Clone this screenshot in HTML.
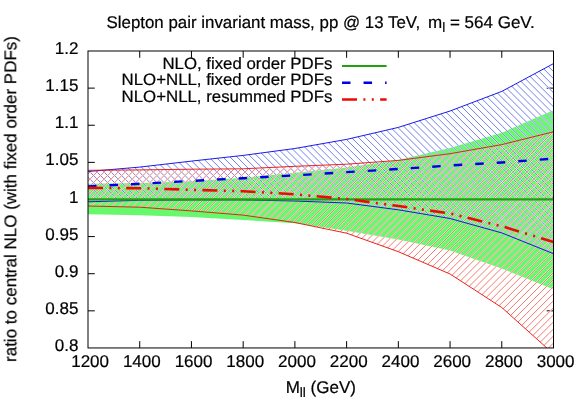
<!DOCTYPE html>
<html><head><meta charset="utf-8"><title>plot</title>
<style>html,body{margin:0;padding:0;background:#fff;}body{width:581px;height:418px;position:relative;overflow:hidden;font-family:"Liberation Sans",sans-serif;}</style>
</head><body>
<svg width="581" height="418" viewBox="0 0 581 418" style="position:absolute;left:0;top:0">
<defs>
<clipPath id="frame"><rect x="88.0" y="51.0" width="465.5" height="296.95"/></clipPath>
<clipPath id="cb"><polygon points="88.00,171.50 139.72,167.10 191.44,161.10 243.17,155.40 294.89,148.50 346.61,139.40 398.33,127.40 450.06,111.00 501.78,91.40 553.50,63.60 553.50,253.70 501.78,232.90 450.06,218.50 398.33,209.80 346.61,203.00 294.89,201.00 243.17,199.90 191.44,199.90 139.72,200.30 88.00,201.80"/></clipPath>
<clipPath id="cr"><polygon points="88.00,170.30 139.72,169.90 191.44,169.20 243.17,168.80 294.89,166.30 346.61,164.20 398.33,160.40 450.06,153.70 501.78,144.60 553.50,131.80 553.50,354.00 501.78,307.50 450.06,274.00 398.33,251.70 346.61,233.20 294.89,222.50 243.17,215.10 191.44,210.90 139.72,207.20 88.00,206.00"/></clipPath>
</defs>
<rect width="581" height="418" fill="#fff"/>
<path d="M139.72,347.95v-6.8M139.72,51.0v6.8M191.44,347.95v-6.8M191.44,51.0v6.8M243.17,347.95v-6.8M243.17,51.0v6.8M294.89,347.95v-6.8M294.89,51.0v6.8M346.61,347.95v-6.8M346.61,51.0v6.8M398.33,347.95v-6.8M398.33,51.0v6.8M450.06,347.95v-6.8M450.06,51.0v6.8M501.78,347.95v-6.8M501.78,51.0v6.8M88.0,310.83h6.8M553.5,310.83h-6.8M88.0,273.71h6.8M553.5,273.71h-6.8M88.0,236.59h6.8M553.5,236.59h-6.8M88.0,199.47h6.8M553.5,199.47h-6.8M88.0,162.36h6.8M553.5,162.36h-6.8M88.0,125.24h6.8M553.5,125.24h-6.8M88.0,88.12h6.8M553.5,88.12h-6.8" stroke="#000000" stroke-width="1" fill="none"/>
<g clip-path="url(#frame)">
<polygon points="88.00,183.80 139.72,183.10 191.44,181.30 243.17,177.70 294.89,172.70 346.61,167.60 398.33,160.00 450.06,148.00 501.78,132.80 553.50,110.30 553.50,289.30 501.78,268.40 450.06,250.60 398.33,239.50 346.61,230.80 294.89,223.30 243.17,220.00 191.44,217.00 139.72,215.20 88.00,214.20" fill="#68f86e"/>
<g clip-path="url(#cb)"><path d="M83.00,-427.10L558.50,48.40M83.00,-420.05L558.50,55.45M83.00,-413.00L558.50,62.50M83.00,-405.95L558.50,69.55M83.00,-398.90L558.50,76.60M83.00,-391.85L558.50,83.65M83.00,-384.80L558.50,90.70M83.00,-377.75L558.50,97.75M83.00,-370.70L558.50,104.80M83.00,-363.65L558.50,111.85M83.00,-356.60L558.50,118.90M83.00,-349.55L558.50,125.95M83.00,-342.50L558.50,133.00M83.00,-335.45L558.50,140.05M83.00,-328.40L558.50,147.10M83.00,-321.35L558.50,154.15M83.00,-314.30L558.50,161.20M83.00,-307.25L558.50,168.25M83.00,-300.20L558.50,175.30M83.00,-293.15L558.50,182.35M83.00,-286.10L558.50,189.40M83.00,-279.05L558.50,196.45M83.00,-272.00L558.50,203.50M83.00,-264.95L558.50,210.55M83.00,-257.90L558.50,217.60M83.00,-250.85L558.50,224.65M83.00,-243.80L558.50,231.70M83.00,-236.75L558.50,238.75M83.00,-229.70L558.50,245.80M83.00,-222.65L558.50,252.85M83.00,-215.60L558.50,259.90M83.00,-208.55L558.50,266.95M83.00,-201.50L558.50,274.00M83.00,-194.45L558.50,281.05M83.00,-187.40L558.50,288.10M83.00,-180.35L558.50,295.15M83.00,-173.30L558.50,302.20M83.00,-166.25L558.50,309.25M83.00,-159.20L558.50,316.30M83.00,-152.15L558.50,323.35M83.00,-145.10L558.50,330.40M83.00,-138.05L558.50,337.45M83.00,-131.00L558.50,344.50M83.00,-123.95L558.50,351.55M83.00,-116.90L558.50,358.60M83.00,-109.85L558.50,365.65M83.00,-102.80L558.50,372.70M83.00,-95.75L558.50,379.75M83.00,-88.70L558.50,386.80M83.00,-81.65L558.50,393.85M83.00,-74.60L558.50,400.90M83.00,-67.55L558.50,407.95M83.00,-60.50L558.50,415.00M83.00,-53.45L558.50,422.05M83.00,-46.40L558.50,429.10M83.00,-39.35L558.50,436.15M83.00,-32.30L558.50,443.20M83.00,-25.25L558.50,450.25M83.00,-18.20L558.50,457.30M83.00,-11.15L558.50,464.35M83.00,-4.10L558.50,471.40M83.00,2.95L558.50,478.45M83.00,10.00L558.50,485.50M83.00,17.05L558.50,492.55M83.00,24.10L558.50,499.60M83.00,31.15L558.50,506.65M83.00,38.20L558.50,513.70M83.00,45.25L558.50,520.75M83.00,52.30L558.50,527.80M83.00,59.35L558.50,534.85M83.00,66.40L558.50,541.90M83.00,73.45L558.50,548.95M83.00,80.50L558.50,556.00M83.00,87.55L558.50,563.05M83.00,94.60L558.50,570.10M83.00,101.65L558.50,577.15M83.00,108.70L558.50,584.20M83.00,115.75L558.50,591.25M83.00,122.80L558.50,598.30M83.00,129.85L558.50,605.35M83.00,136.90L558.50,612.40M83.00,143.95L558.50,619.45M83.00,151.00L558.50,626.50M83.00,158.05L558.50,633.55M83.00,165.10L558.50,640.60M83.00,172.15L558.50,647.65M83.00,179.20L558.50,654.70M83.00,186.25L558.50,661.75M83.00,193.30L558.50,668.80M83.00,200.35L558.50,675.85M83.00,207.40L558.50,682.90M83.00,214.45L558.50,689.95M83.00,221.50L558.50,697.00M83.00,228.55L558.50,704.05M83.00,235.60L558.50,711.10M83.00,242.65L558.50,718.15M83.00,249.70L558.50,725.20M83.00,256.75L558.50,732.25M83.00,263.80L558.50,739.30M83.00,270.85L558.50,746.35M83.00,277.90L558.50,753.40M83.00,284.95L558.50,760.45M83.00,292.00L558.50,767.50M83.00,299.05L558.50,774.55M83.00,306.10L558.50,781.60M83.00,313.15L558.50,788.65M83.00,320.20L558.50,795.70M83.00,327.25L558.50,802.75M83.00,334.30L558.50,809.80M83.00,341.35L558.50,816.85M83.00,348.40L558.50,823.90" stroke="#fff" stroke-width="1.25" stroke-opacity="1.0" fill="none"/><path d="M83.00,-427.10L558.50,48.40M83.00,-420.05L558.50,55.45M83.00,-413.00L558.50,62.50M83.00,-405.95L558.50,69.55M83.00,-398.90L558.50,76.60M83.00,-391.85L558.50,83.65M83.00,-384.80L558.50,90.70M83.00,-377.75L558.50,97.75M83.00,-370.70L558.50,104.80M83.00,-363.65L558.50,111.85M83.00,-356.60L558.50,118.90M83.00,-349.55L558.50,125.95M83.00,-342.50L558.50,133.00M83.00,-335.45L558.50,140.05M83.00,-328.40L558.50,147.10M83.00,-321.35L558.50,154.15M83.00,-314.30L558.50,161.20M83.00,-307.25L558.50,168.25M83.00,-300.20L558.50,175.30M83.00,-293.15L558.50,182.35M83.00,-286.10L558.50,189.40M83.00,-279.05L558.50,196.45M83.00,-272.00L558.50,203.50M83.00,-264.95L558.50,210.55M83.00,-257.90L558.50,217.60M83.00,-250.85L558.50,224.65M83.00,-243.80L558.50,231.70M83.00,-236.75L558.50,238.75M83.00,-229.70L558.50,245.80M83.00,-222.65L558.50,252.85M83.00,-215.60L558.50,259.90M83.00,-208.55L558.50,266.95M83.00,-201.50L558.50,274.00M83.00,-194.45L558.50,281.05M83.00,-187.40L558.50,288.10M83.00,-180.35L558.50,295.15M83.00,-173.30L558.50,302.20M83.00,-166.25L558.50,309.25M83.00,-159.20L558.50,316.30M83.00,-152.15L558.50,323.35M83.00,-145.10L558.50,330.40M83.00,-138.05L558.50,337.45M83.00,-131.00L558.50,344.50M83.00,-123.95L558.50,351.55M83.00,-116.90L558.50,358.60M83.00,-109.85L558.50,365.65M83.00,-102.80L558.50,372.70M83.00,-95.75L558.50,379.75M83.00,-88.70L558.50,386.80M83.00,-81.65L558.50,393.85M83.00,-74.60L558.50,400.90M83.00,-67.55L558.50,407.95M83.00,-60.50L558.50,415.00M83.00,-53.45L558.50,422.05M83.00,-46.40L558.50,429.10M83.00,-39.35L558.50,436.15M83.00,-32.30L558.50,443.20M83.00,-25.25L558.50,450.25M83.00,-18.20L558.50,457.30M83.00,-11.15L558.50,464.35M83.00,-4.10L558.50,471.40M83.00,2.95L558.50,478.45M83.00,10.00L558.50,485.50M83.00,17.05L558.50,492.55M83.00,24.10L558.50,499.60M83.00,31.15L558.50,506.65M83.00,38.20L558.50,513.70M83.00,45.25L558.50,520.75M83.00,52.30L558.50,527.80M83.00,59.35L558.50,534.85M83.00,66.40L558.50,541.90M83.00,73.45L558.50,548.95M83.00,80.50L558.50,556.00M83.00,87.55L558.50,563.05M83.00,94.60L558.50,570.10M83.00,101.65L558.50,577.15M83.00,108.70L558.50,584.20M83.00,115.75L558.50,591.25M83.00,122.80L558.50,598.30M83.00,129.85L558.50,605.35M83.00,136.90L558.50,612.40M83.00,143.95L558.50,619.45M83.00,151.00L558.50,626.50M83.00,158.05L558.50,633.55M83.00,165.10L558.50,640.60M83.00,172.15L558.50,647.65M83.00,179.20L558.50,654.70M83.00,186.25L558.50,661.75M83.00,193.30L558.50,668.80M83.00,200.35L558.50,675.85M83.00,207.40L558.50,682.90M83.00,214.45L558.50,689.95M83.00,221.50L558.50,697.00M83.00,228.55L558.50,704.05M83.00,235.60L558.50,711.10M83.00,242.65L558.50,718.15M83.00,249.70L558.50,725.20M83.00,256.75L558.50,732.25M83.00,263.80L558.50,739.30M83.00,270.85L558.50,746.35M83.00,277.90L558.50,753.40M83.00,284.95L558.50,760.45M83.00,292.00L558.50,767.50M83.00,299.05L558.50,774.55M83.00,306.10L558.50,781.60M83.00,313.15L558.50,788.65M83.00,320.20L558.50,795.70M83.00,327.25L558.50,802.75M83.00,334.30L558.50,809.80M83.00,341.35L558.50,816.85M83.00,348.40L558.50,823.90" stroke="#3a4ee0" stroke-width="0.72" stroke-opacity="1" fill="none"/></g>
<g clip-path="url(#cr)"><path d="M83.00,52.10L558.50,-423.40M83.00,59.15L558.50,-416.35M83.00,66.20L558.50,-409.30M83.00,73.25L558.50,-402.25M83.00,80.30L558.50,-395.20M83.00,87.35L558.50,-388.15M83.00,94.40L558.50,-381.10M83.00,101.45L558.50,-374.05M83.00,108.50L558.50,-367.00M83.00,115.55L558.50,-359.95M83.00,122.60L558.50,-352.90M83.00,129.65L558.50,-345.85M83.00,136.70L558.50,-338.80M83.00,143.75L558.50,-331.75M83.00,150.80L558.50,-324.70M83.00,157.85L558.50,-317.65M83.00,164.90L558.50,-310.60M83.00,171.95L558.50,-303.55M83.00,179.00L558.50,-296.50M83.00,186.05L558.50,-289.45M83.00,193.10L558.50,-282.40M83.00,200.15L558.50,-275.35M83.00,207.20L558.50,-268.30M83.00,214.25L558.50,-261.25M83.00,221.30L558.50,-254.20M83.00,228.35L558.50,-247.15M83.00,235.40L558.50,-240.10M83.00,242.45L558.50,-233.05M83.00,249.50L558.50,-226.00M83.00,256.55L558.50,-218.95M83.00,263.60L558.50,-211.90M83.00,270.65L558.50,-204.85M83.00,277.70L558.50,-197.80M83.00,284.75L558.50,-190.75M83.00,291.80L558.50,-183.70M83.00,298.85L558.50,-176.65M83.00,305.90L558.50,-169.60M83.00,312.95L558.50,-162.55M83.00,320.00L558.50,-155.50M83.00,327.05L558.50,-148.45M83.00,334.10L558.50,-141.40M83.00,341.15L558.50,-134.35M83.00,348.20L558.50,-127.30M83.00,355.25L558.50,-120.25M83.00,362.30L558.50,-113.20M83.00,369.35L558.50,-106.15M83.00,376.40L558.50,-99.10M83.00,383.45L558.50,-92.05M83.00,390.50L558.50,-85.00M83.00,397.55L558.50,-77.95M83.00,404.60L558.50,-70.90M83.00,411.65L558.50,-63.85M83.00,418.70L558.50,-56.80M83.00,425.75L558.50,-49.75M83.00,432.80L558.50,-42.70M83.00,439.85L558.50,-35.65M83.00,446.90L558.50,-28.60M83.00,453.95L558.50,-21.55M83.00,461.00L558.50,-14.50M83.00,468.05L558.50,-7.45M83.00,475.10L558.50,-0.40M83.00,482.15L558.50,6.65M83.00,489.20L558.50,13.70M83.00,496.25L558.50,20.75M83.00,503.30L558.50,27.80M83.00,510.35L558.50,34.85M83.00,517.40L558.50,41.90M83.00,524.45L558.50,48.95M83.00,531.50L558.50,56.00M83.00,538.55L558.50,63.05M83.00,545.60L558.50,70.10M83.00,552.65L558.50,77.15M83.00,559.70L558.50,84.20M83.00,566.75L558.50,91.25M83.00,573.80L558.50,98.30M83.00,580.85L558.50,105.35M83.00,587.90L558.50,112.40M83.00,594.95L558.50,119.45M83.00,602.00L558.50,126.50M83.00,609.05L558.50,133.55M83.00,616.10L558.50,140.60M83.00,623.15L558.50,147.65M83.00,630.20L558.50,154.70M83.00,637.25L558.50,161.75M83.00,644.30L558.50,168.80M83.00,651.35L558.50,175.85M83.00,658.40L558.50,182.90M83.00,665.45L558.50,189.95M83.00,672.50L558.50,197.00M83.00,679.55L558.50,204.05M83.00,686.60L558.50,211.10M83.00,693.65L558.50,218.15M83.00,700.70L558.50,225.20M83.00,707.75L558.50,232.25M83.00,714.80L558.50,239.30M83.00,721.85L558.50,246.35M83.00,728.90L558.50,253.40M83.00,735.95L558.50,260.45M83.00,743.00L558.50,267.50M83.00,750.05L558.50,274.55M83.00,757.10L558.50,281.60M83.00,764.15L558.50,288.65M83.00,771.20L558.50,295.70M83.00,778.25L558.50,302.75M83.00,785.30L558.50,309.80M83.00,792.35L558.50,316.85M83.00,799.40L558.50,323.90M83.00,806.45L558.50,330.95M83.00,813.50L558.50,338.00M83.00,820.55L558.50,345.05M83.00,827.60L558.50,352.10" stroke="#fff" stroke-width="1.25" stroke-opacity="1.0" fill="none"/><path d="M83.00,52.10L558.50,-423.40M83.00,59.15L558.50,-416.35M83.00,66.20L558.50,-409.30M83.00,73.25L558.50,-402.25M83.00,80.30L558.50,-395.20M83.00,87.35L558.50,-388.15M83.00,94.40L558.50,-381.10M83.00,101.45L558.50,-374.05M83.00,108.50L558.50,-367.00M83.00,115.55L558.50,-359.95M83.00,122.60L558.50,-352.90M83.00,129.65L558.50,-345.85M83.00,136.70L558.50,-338.80M83.00,143.75L558.50,-331.75M83.00,150.80L558.50,-324.70M83.00,157.85L558.50,-317.65M83.00,164.90L558.50,-310.60M83.00,171.95L558.50,-303.55M83.00,179.00L558.50,-296.50M83.00,186.05L558.50,-289.45M83.00,193.10L558.50,-282.40M83.00,200.15L558.50,-275.35M83.00,207.20L558.50,-268.30M83.00,214.25L558.50,-261.25M83.00,221.30L558.50,-254.20M83.00,228.35L558.50,-247.15M83.00,235.40L558.50,-240.10M83.00,242.45L558.50,-233.05M83.00,249.50L558.50,-226.00M83.00,256.55L558.50,-218.95M83.00,263.60L558.50,-211.90M83.00,270.65L558.50,-204.85M83.00,277.70L558.50,-197.80M83.00,284.75L558.50,-190.75M83.00,291.80L558.50,-183.70M83.00,298.85L558.50,-176.65M83.00,305.90L558.50,-169.60M83.00,312.95L558.50,-162.55M83.00,320.00L558.50,-155.50M83.00,327.05L558.50,-148.45M83.00,334.10L558.50,-141.40M83.00,341.15L558.50,-134.35M83.00,348.20L558.50,-127.30M83.00,355.25L558.50,-120.25M83.00,362.30L558.50,-113.20M83.00,369.35L558.50,-106.15M83.00,376.40L558.50,-99.10M83.00,383.45L558.50,-92.05M83.00,390.50L558.50,-85.00M83.00,397.55L558.50,-77.95M83.00,404.60L558.50,-70.90M83.00,411.65L558.50,-63.85M83.00,418.70L558.50,-56.80M83.00,425.75L558.50,-49.75M83.00,432.80L558.50,-42.70M83.00,439.85L558.50,-35.65M83.00,446.90L558.50,-28.60M83.00,453.95L558.50,-21.55M83.00,461.00L558.50,-14.50M83.00,468.05L558.50,-7.45M83.00,475.10L558.50,-0.40M83.00,482.15L558.50,6.65M83.00,489.20L558.50,13.70M83.00,496.25L558.50,20.75M83.00,503.30L558.50,27.80M83.00,510.35L558.50,34.85M83.00,517.40L558.50,41.90M83.00,524.45L558.50,48.95M83.00,531.50L558.50,56.00M83.00,538.55L558.50,63.05M83.00,545.60L558.50,70.10M83.00,552.65L558.50,77.15M83.00,559.70L558.50,84.20M83.00,566.75L558.50,91.25M83.00,573.80L558.50,98.30M83.00,580.85L558.50,105.35M83.00,587.90L558.50,112.40M83.00,594.95L558.50,119.45M83.00,602.00L558.50,126.50M83.00,609.05L558.50,133.55M83.00,616.10L558.50,140.60M83.00,623.15L558.50,147.65M83.00,630.20L558.50,154.70M83.00,637.25L558.50,161.75M83.00,644.30L558.50,168.80M83.00,651.35L558.50,175.85M83.00,658.40L558.50,182.90M83.00,665.45L558.50,189.95M83.00,672.50L558.50,197.00M83.00,679.55L558.50,204.05M83.00,686.60L558.50,211.10M83.00,693.65L558.50,218.15M83.00,700.70L558.50,225.20M83.00,707.75L558.50,232.25M83.00,714.80L558.50,239.30M83.00,721.85L558.50,246.35M83.00,728.90L558.50,253.40M83.00,735.95L558.50,260.45M83.00,743.00L558.50,267.50M83.00,750.05L558.50,274.55M83.00,757.10L558.50,281.60M83.00,764.15L558.50,288.65M83.00,771.20L558.50,295.70M83.00,778.25L558.50,302.75M83.00,785.30L558.50,309.80M83.00,792.35L558.50,316.85M83.00,799.40L558.50,323.90M83.00,806.45L558.50,330.95M83.00,813.50L558.50,338.00M83.00,820.55L558.50,345.05M83.00,827.60L558.50,352.10" stroke="#ee463c" stroke-width="0.72" stroke-opacity="1" fill="none"/></g>
<polyline points="88.00,171.50 139.72,167.10 191.44,161.10 243.17,155.40 294.89,148.50 346.61,139.40 398.33,127.40 450.06,111.00 501.78,91.40 553.50,63.60" fill="none" stroke="#0000e8" stroke-width="0.9"/>
<polyline points="88.00,201.80 139.72,200.30 191.44,199.90 243.17,199.90 294.89,201.00 346.61,203.00 398.33,209.80 450.06,218.50 501.78,232.90 553.50,253.70" fill="none" stroke="#0000e8" stroke-width="0.9"/>
<polyline points="88.00,170.30 139.72,169.90 191.44,169.20 243.17,168.80 294.89,166.30 346.61,164.20 398.33,160.40 450.06,153.70 501.78,144.60 553.50,131.80" fill="none" stroke="#ea0c04" stroke-width="0.9"/>
<polyline points="88.00,206.00 139.72,207.20 191.44,210.90 243.17,215.10 294.89,222.50 346.61,233.20 398.33,251.70 450.06,274.00 501.78,307.50 553.50,354.00" fill="none" stroke="#ea0c04" stroke-width="0.9"/>
<path d="M88.0,199.45H553.5" stroke="#22a010" stroke-width="2.2"/>
<polyline points="88.00,186.40 139.72,183.80 191.44,180.90 243.17,178.20 294.89,175.40 346.61,172.10 398.33,169.00 450.06,165.50 501.78,162.50 553.50,158.60" fill="none" stroke="#0000e8" stroke-width="2.4" stroke-dasharray="8.5 13.05"/>
<polyline points="88.00,187.90 139.72,188.20 191.44,189.80 243.17,191.20 294.89,194.30 346.61,199.00 398.33,206.00 450.06,213.50 501.78,226.20 553.50,242.00" fill="none" stroke="#ea0c04" stroke-width="2.6" stroke-dasharray="15 6.4 2 6.4 2 6.35"/>
</g>
<rect x="88.0" y="51.0" width="465.5" height="296.95" fill="none" stroke="#000000" stroke-width="1"/>
<path d="M342,66H386.6" stroke="#22a010" stroke-width="2.2"/>
<path d="M342,82.75H386.6" stroke="#0000e8" stroke-width="2.4" stroke-dasharray="8.5 13.05"/>
<path d="M342,99.5H386.6" stroke="#ea0c04" stroke-width="2.6" stroke-dasharray="15 6.4 2 6.4 2 6.35"/>
<g font-family="Liberation Sans, sans-serif" font-size="17" fill="#000" stroke="#000" stroke-width="0.22" style="opacity:0.999" text-rendering="geometricPrecision">
<text x="106.5" y="28.3" text-anchor="start" textLength="313.7" lengthAdjust="spacingAndGlyphs">Slepton pair invariant mass, pp @ 13 TeV,</text>
<text x="428.0" y="28.3" text-anchor="start" >m<tspan font-size="13.6" dy="4.1">l</tspan><tspan dy="-4.1"> = 564 GeV.</tspan></text>
<text x="78.4" y="351.05" text-anchor="end" >0.8</text>
<text x="78.4" y="313.93" text-anchor="end" >0.85</text>
<text x="78.4" y="276.81" text-anchor="end" >0.9</text>
<text x="78.4" y="239.69" text-anchor="end" >0.95</text>
<text x="78.4" y="202.57" text-anchor="end" >1</text>
<text x="78.4" y="165.46" text-anchor="end" >1.05</text>
<text x="78.4" y="128.34" text-anchor="end" >1.1</text>
<text x="78.4" y="91.22" text-anchor="end" >1.15</text>
<text x="78.4" y="54.10" text-anchor="end" >1.2</text>
<text x="90.10" y="367.4" text-anchor="middle" >1200</text>
<text x="141.82" y="367.4" text-anchor="middle" >1400</text>
<text x="193.54" y="367.4" text-anchor="middle" >1600</text>
<text x="245.27" y="367.4" text-anchor="middle" >1800</text>
<text x="296.99" y="367.4" text-anchor="middle" >2000</text>
<text x="348.71" y="367.4" text-anchor="middle" >2200</text>
<text x="400.43" y="367.4" text-anchor="middle" >2400</text>
<text x="452.16" y="367.4" text-anchor="middle" >2600</text>
<text x="503.88" y="367.4" text-anchor="middle" >2800</text>
<text x="555.60" y="367.4" text-anchor="middle" >3000</text>
<text x="320.8" y="392.6" text-anchor="middle" >M<tspan font-size="13.6" dy="4.1">ll</tspan><tspan dy="-4.1"> (GeV)</tspan></text>
<text x="0" y="0" text-anchor="middle" transform="translate(16.3,199.05) rotate(-90)">ratio to central NLO (with fixed order PDFs)</text>
<text x="332.4" y="68.5" text-anchor="end" font-size="16.5" textLength="170.0" lengthAdjust="spacingAndGlyphs">NLO, fixed order PDFs</text>
<text x="332.4" y="85.2" text-anchor="end" font-size="16.5" textLength="210.8" lengthAdjust="spacingAndGlyphs">NLO+NLL, fixed order PDFs</text>
<text x="332.4" y="101.85" text-anchor="end" font-size="16.5" textLength="210.8" lengthAdjust="spacingAndGlyphs">NLO+NLL, resummed PDFs</text>
</g>
</svg>
</body></html>
